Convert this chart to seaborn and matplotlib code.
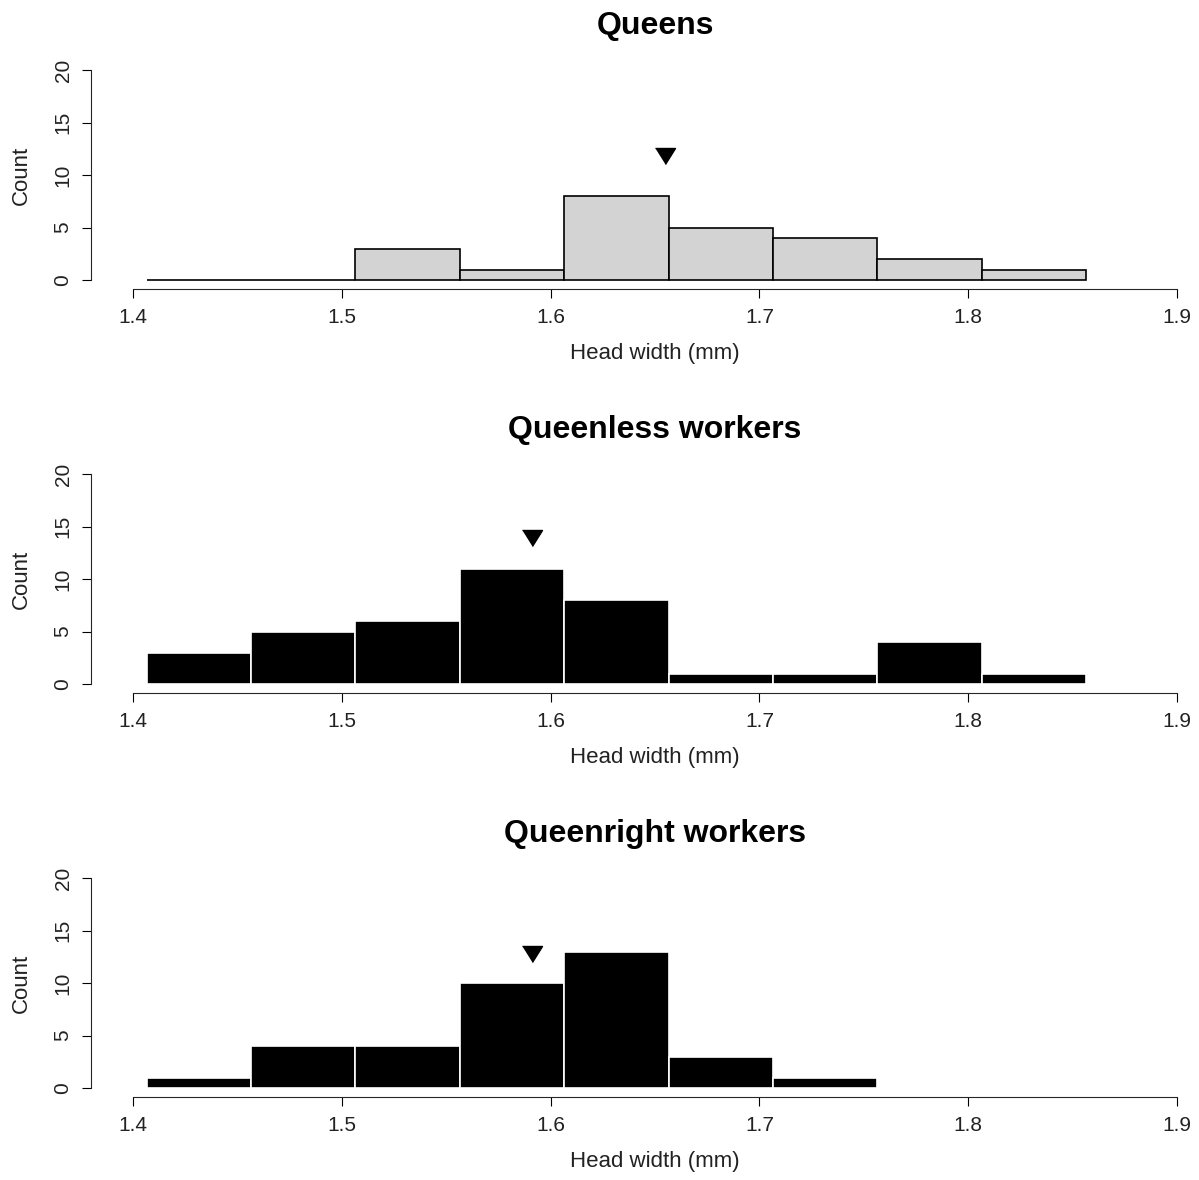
import numpy as np
import pandas as pd
import matplotlib
matplotlib.use("Agg")
import matplotlib.pyplot as plt
import seaborn as sns

# -----------------------------------
# Data
# -----------------------------------
panel_titles = ["Queens", "Queenless workers", "Queenright workers"]

bin_start = 1.4065
bin_width = 0.05

queens_counts = [0, 0, 3, 1, 8, 5, 4, 2, 1]
queenless_counts = [3, 5, 6, 11, 8, 1, 1, 4, 1]
queenright_counts = [1, 4, 4, 10, 13, 3, 1]

mean_widths = [1.655, 1.591, 1.591]
marker_heights = [11.8, 13.9, 12.8]

x_ticks = [1.4, 1.5, 1.6, 1.7, 1.8, 1.9]
y_ticks = [0, 5, 10, 15, 20]

bar_colors = ["#d3d3d3", "black", "black"]
edge_colors = ["black", "white", "white"]

# -----------------------------------
# Style
# -----------------------------------
sns.set_style("ticks")
plt.rcParams["font.family"] = ["Liberation Sans", "DejaVu Sans"]
plt.rcParams["axes.linewidth"] = 0.8
plt.rcParams["text.color"] = "black"
plt.rcParams["axes.labelcolor"] = "#222222"

W, H = 1199, 1180
fig = plt.figure(figsize=(W / 100, H / 100), dpi=100)

all_counts = [queens_counts, queenless_counts, queenright_counts]
tri = [(-1.25, 1), (1.25, 1), (0, -1)]

for i, counts in enumerate(all_counts):
    zero_px = 280 + 404 * i
    ax = fig.add_axes([133 / W, 1 - zero_px / H, 1044 / W, 210 / H])

    n = len(counts)
    centers = bin_start + bin_width * (np.arange(n) + 0.5)
    df = pd.DataFrame({"width": centers, "count": counts})
    sns.histplot(data=df, x="width", weights="count", binwidth=bin_width,
                 binrange=(bin_start, bin_start + n * bin_width), ax=ax,
                 color=bar_colors[i], edgecolor=edge_colors[i],
                 linewidth=1.2, alpha=1, clip_on=False)

    ax.plot([mean_widths[i]], [marker_heights[i]], marker=tri, ms=14.4,
            color="black", linestyle="none", clip_on=False)

    # R-style detached axes
    sns.despine(ax=ax)
    ax.spines["bottom"].set_position(("outward", 6.5))
    ax.spines["left"].set_position(("outward", 30))

    ax.set_xlim(1.4, 1.9)
    ax.set_ylim(0, 20)
    ax.spines["bottom"].set_bounds(1.4, 1.9)
    ax.spines["left"].set_bounds(0, 20)
    ax.set_xticks(x_ticks)
    ax.set_xticklabels([f"{t:.1f}" for t in x_ticks])
    ax.set_yticks(y_ticks)
    ax.set_yticklabels([str(t) for t in y_ticks])
    ax.tick_params(axis="both", length=6.5, width=0.8, labelsize=15, pad=7,
                   colors="black", labelcolor="#222222")
    ax.tick_params(axis="y", labelrotation=90)
    for lab in ax.get_yticklabels():
        lab.set_verticalalignment("center")

    ax.set_xlabel("Head width (mm)", fontsize=16)
    ax.set_ylabel("Count", fontsize=16)
    ax.xaxis.set_label_coords(0.5, -0.30)
    ax.yaxis.set_label_coords(-0.097, 0.5)
    ax.set_title(panel_titles[i], fontsize=23, fontweight="bold", pad=26,
                 color="black")

fig.savefig("out.png", dpi=100)
